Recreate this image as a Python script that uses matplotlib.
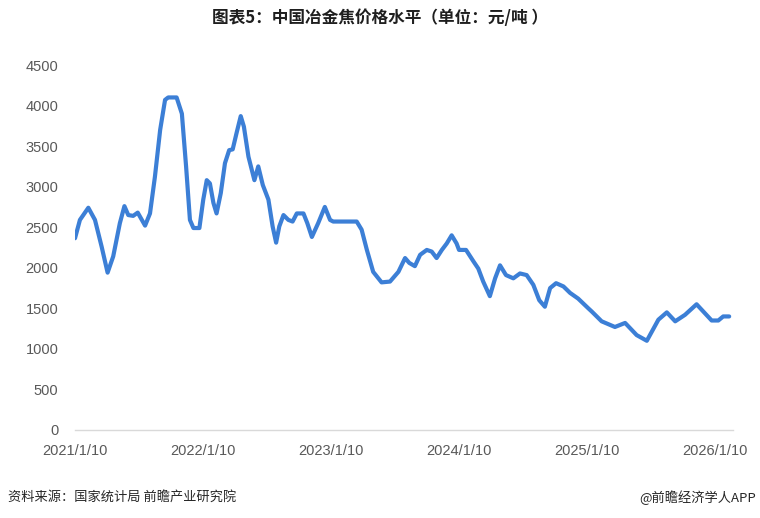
import matplotlib.pyplot as plt
import pandas as pd

plt.rcParams['font.family'] = ['Noto Sans CJK SC', 'DejaVu Sans']

# 冶金焦价格（元/吨），从图上读取的近似值
dates = [
    '2021-01-10', '2021-01-24', '2021-02-17', '2021-03-08', '2021-03-27', '2021-04-13',
    '2021-04-29', '2021-05-18', '2021-05-31', '2021-06-11', '2021-06-25', '2021-07-08',
    '2021-07-29', '2021-08-12', '2021-08-26', '2021-09-10', '2021-09-24', '2021-10-03',
    '2021-10-27', '2021-11-11', '2021-11-23', '2021-12-04', '2021-12-14', '2021-12-31',
    '2022-01-11', '2022-01-21', '2022-01-30', '2022-02-09', '2022-02-18', '2022-03-02',
    '2022-03-14', '2022-03-26', '2022-04-05', '2022-04-16', '2022-04-28', '2022-05-07',
    '2022-05-20', '2022-06-06', '2022-06-17', '2022-06-30', '2022-07-16', '2022-07-28',
    '2022-08-07', '2022-08-16', '2022-08-28', '2022-09-11', '2022-09-23', '2022-10-05',
    '2022-10-24', '2022-11-04', '2022-11-17', '2022-12-05', '2022-12-24', '2023-01-08',
    '2023-01-17', '2023-03-25', '2023-04-08', '2023-04-23', '2023-05-11', '2023-06-04',
    '2023-06-28', '2023-07-22', '2023-08-10', '2023-08-22', '2023-09-07', '2023-09-22',
    '2023-10-11', '2023-10-25', '2023-11-08', '2023-11-23', '2023-12-07', '2023-12-21',
    '2024-01-04', '2024-01-11', '2024-01-31', '2024-02-21', '2024-03-06', '2024-03-20',
    '2024-04-08', '2024-04-23', '2024-05-07', '2024-05-24', '2024-06-14', '2024-07-03',
    '2024-07-22', '2024-08-10', '2024-08-27', '2024-09-12', '2024-09-27', '2024-10-14',
    '2024-11-04', '2024-11-23', '2024-12-16', '2025-01-14', '2025-01-24', '2025-02-21',
    '2025-03-31', '2025-04-29', '2025-06-01', '2025-06-30', '2025-08-02', '2025-08-26',
    '2025-09-19', '2025-10-17', '2025-11-19', '2026-01-01', '2026-01-20', '2026-02-03',
    '2026-02-20',
]
prices = [
    2364, 2590, 2740, 2590, 2260, 1940,
    2140, 2550, 2760, 2650, 2640, 2680,
    2520, 2670, 3120, 3700, 4070, 4100,
    4100, 3900, 3250, 2590, 2490, 2490,
    2840, 3080, 3040, 2800, 2670, 2920,
    3290, 3450, 3460, 3660, 3870, 3740,
    3370, 3080, 3250, 3020, 2840, 2510,
    2310, 2510, 2650, 2590, 2570, 2670,
    2670, 2550, 2380, 2550, 2750, 2590,
    2570, 2570, 2470, 2220, 1950, 1820,
    1830, 1950, 2120, 2060, 2020, 2160,
    2220, 2200, 2120, 2220, 2300, 2400,
    2300, 2220, 2220, 2080, 1990, 1830,
    1650, 1870, 2030, 1910, 1870, 1930,
    1910, 1790, 1600, 1520, 1750, 1810,
    1770, 1690, 1620, 1500, 1460, 1340,
    1270, 1320, 1170, 1100, 1360, 1450,
    1340, 1420, 1550, 1350, 1350, 1400,
    1400,
]
tick_labels = ['2021/1/10', '2022/1/10', '2023/1/10', '2024/1/10', '2025/1/10', '2026/1/10']
y_ticks = [0, 500, 1000, 1500, 2000, 2500, 3000, 3500, 4000, 4500]

x = pd.to_datetime(dates)
tick_dates = pd.to_datetime([t.replace('/', '-') for t in tick_labels])

fig = plt.figure(figsize=(7.6, 5.18), dpi=100)
ax = fig.add_axes([0.0987, 0.1699, 0.8658, 0.7046])

ax.plot(x, prices, color='#3C7FD6', linewidth=3.0, solid_joinstyle='round',
        solid_capstyle='round')

ax.set_ylim(0, 4500)
ax.set_xlim(pd.Timestamp('2021-01-10'), pd.Timestamp('2026-03-03'))
ax.set_yticks(y_ticks)
ax.set_xticks(tick_dates)
ax.set_xticklabels(tick_labels)

for s in ['top', 'right', 'left']:
    ax.spines[s].set_visible(False)
ax.spines['bottom'].set_color('#D9D9D9')
ax.spines['bottom'].set_linewidth(1)
ax.tick_params(axis='both', length=0, labelsize=10.5, labelcolor='#595959')
ax.tick_params(axis='y', pad=12)
ax.tick_params(axis='x', pad=10)
for lbl in ax.get_xticklabels() + ax.get_yticklabels():
    lbl.set_family(['Liberation Sans', 'DejaVu Sans'])

fig.text(0.5, 0.965, '图表5：中国冶金焦价格水平（单位：元/吨 ）', ha='center', va='center',
         fontsize=12, fontweight='bold', color='#1F1F1F')
fig.text(0.01, 0.04, '资料来源：国家统计局 前瞻产业研究院', ha='left', va='center',
         fontsize=9.5, color='#262626')
fig.text(0.995, 0.04, '@前瞻经济学人APP', ha='right', va='center',
         fontsize=9.5, color='#262626')

fig.savefig('out.png', dpi=100)
